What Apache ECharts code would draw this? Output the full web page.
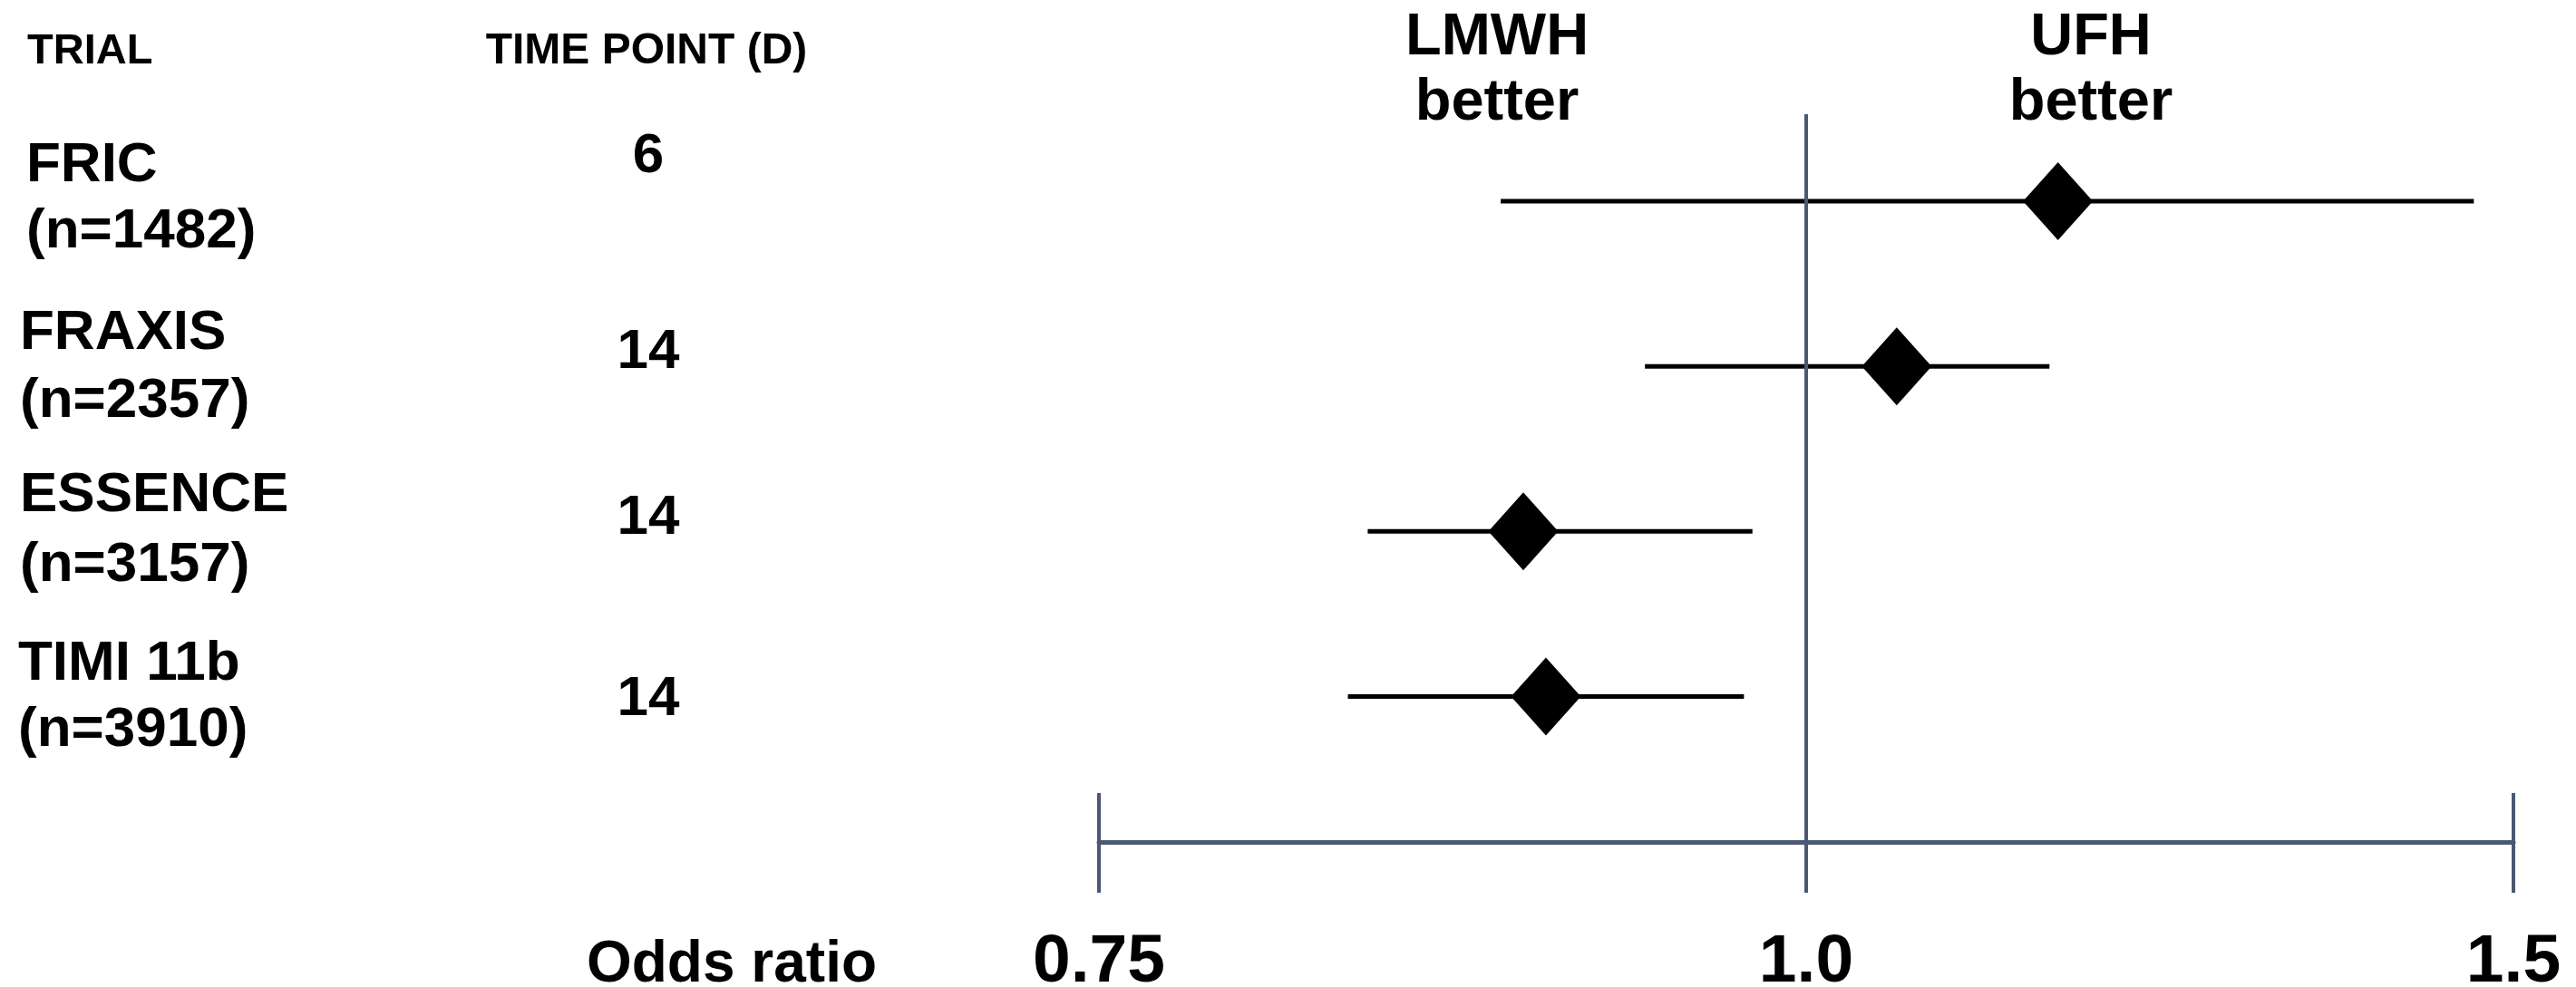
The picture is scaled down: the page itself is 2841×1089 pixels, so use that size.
<!DOCTYPE html>
<html><head><meta charset="utf-8">
<script src="https://cdn.jsdelivr.net/npm/echarts@6.0.0/dist/echarts.min.js"></script>
<style>html,body{margin:0;padding:0;background:#fff}#c{width:2841px;height:1089px}</style>
</head><body><div id="c"></div>
<script>
// ---- data ----
const trials = ['FRIC', 'FRAXIS', 'ESSENCE', 'TIMI 11b'];
const sampleSizes = ['(n=1482)', '(n=2357)', '(n=3157)', '(n=3910)'];
const timePoints = ['6', '14', '14', '14'];
const oddsRatio = [1.178, 1.064, 0.900, 0.908];
const ciLower = [0.892, 0.943, 0.845, 0.838];
const ciUpper = [1.472, 1.172, 0.981, 0.978];
const tickValues = [0.75, 1.0, 1.5];
const tickLabels = ['0.75', '1.0', '1.5'];

// ---- layout / style ----
const FONT = '"Liberation Sans", Arial, Helvetica, sans-serif';
const AXIS_COLOR = '#4a5873';
const trialX = [29, 22, 22, 20];
const trialBase = [[203, 276], [388, 463], [567, 644], [753, 826]];
const timeBase = [193, 409, 592, 792];

// schematic odds-ratio axis: 0.75 | 1.0 | 1.5 equally spaced
function toPos(or) { return or < 1 ? (or - 1) / 0.25 : (or - 1) / 0.5; }
function fmt(v) {
  for (let i = 0; i < tickValues.length; i++) {
    if (Math.abs(toPos(tickValues[i]) - v) < 1e-6) return tickLabels[i];
  }
  return '';
}

function txt(text, x, baseline, size, align) {
  return {
    type: 'text', silent: true,
    style: {
      text: text, x: x, y: baseline - 0.33 * size,
      fill: '#000', font: 'bold ' + size + 'px ' + FONT,
      textAlign: align, align: align,
      textVerticalAlign: 'middle', verticalAlign: 'middle'
    }
  };
}

const graphics = [];
graphics.push(txt('TRIAL', 30, 73, 47, 'left'));
graphics.push(txt('TIME POINT (D)', 713, 73, 48, 'center'));
trials.forEach((t, i) => {
  graphics.push(txt(t, trialX[i], trialBase[i][0], 62, 'left'));
  graphics.push(txt(sampleSizes[i], trialX[i], trialBase[i][1], 62, 'left'));
  graphics.push(txt(timePoints[i], 715, timeBase[i], 62, 'center'));
});
graphics.push(txt('LMWH', 1651, 64, 65, 'center'));
graphics.push(txt('better', 1651, 136, 65, 'center'));
graphics.push(txt('UFH', 2306, 64, 65, 'center'));
graphics.push(txt('better', 2306, 136, 65, 'center'));
graphics.push(txt('Odds ratio', 807, 1086, 64, 'center'));

const whiskerData = trials.map((t, i) => [toPos(ciLower[i]), toPos(ciUpper[i]), i + 1]);
const pointData = trials.map((t, i) => [toPos(oddsRatio[i]), i + 1]);

const chart = echarts.init(document.getElementById('c'), null, { renderer: 'canvas' });
chart.setOption({
  animation: false,
  backgroundColor: '#fff',
  grid: { left: 1212, right: 69, top: 126, bottom: 160, containLabel: false, outerBoundsMode: 'none' },
  xAxis: [{
    type: 'value', min: -1, max: 1, interval: 1, position: 'bottom',
    axisLine: { show: true, onZero: false, lineStyle: { color: AXIS_COLOR, width: 5 } },
    axisTick: { show: true, length: 56, lineStyle: { color: AXIS_COLOR, width: 4 } },
    axisLabel: {
      formatter: fmt, margin: 96, fontSize: 75, fontWeight: 'bold', color: '#000',
      fontFamily: FONT, showMinLabel: true, showMaxLabel: true
    },
    splitLine: { show: false }
  }, {
    type: 'value', min: -1, max: 1, interval: 1, position: 'bottom',
    axisLine: { show: false, onZero: false },
    axisTick: { show: true, inside: true, length: 54, lineStyle: { color: AXIS_COLOR, width: 4 } },
    axisLabel: { show: false },
    splitLine: { show: false }
  }],
  yAxis: { type: 'value', inverse: true, min: 0.473, max: 4.881, show: false },
  series: [{
    type: 'custom',
    data: whiskerData,
    encode: { x: [0, 1], y: 2 },
    renderItem: function (params, api) {
      const p1 = api.coord([api.value(0), api.value(2)]);
      const p2 = api.coord([api.value(1), api.value(2)]);
      return {
        type: 'line',
        shape: { x1: p1[0], y1: p1[1], x2: p2[0], y2: p2[1] },
        style: { stroke: '#000', lineWidth: 5 }
      };
    },
    z: 3
  }, {
    type: 'scatter',
    data: pointData,
    symbol: 'diamond',
    symbolSize: [77, 86],
    itemStyle: { color: '#000', opacity: 1 },
    z: 4,
    markLine: {
      silent: true, symbol: 'none', label: { show: false },
      lineStyle: { color: AXIS_COLOR, width: 4, type: 'solid' },
      data: [{ xAxis: toPos(1.0) }]
    }
  }],
  graphic: graphics
});
</script>
</body></html>
